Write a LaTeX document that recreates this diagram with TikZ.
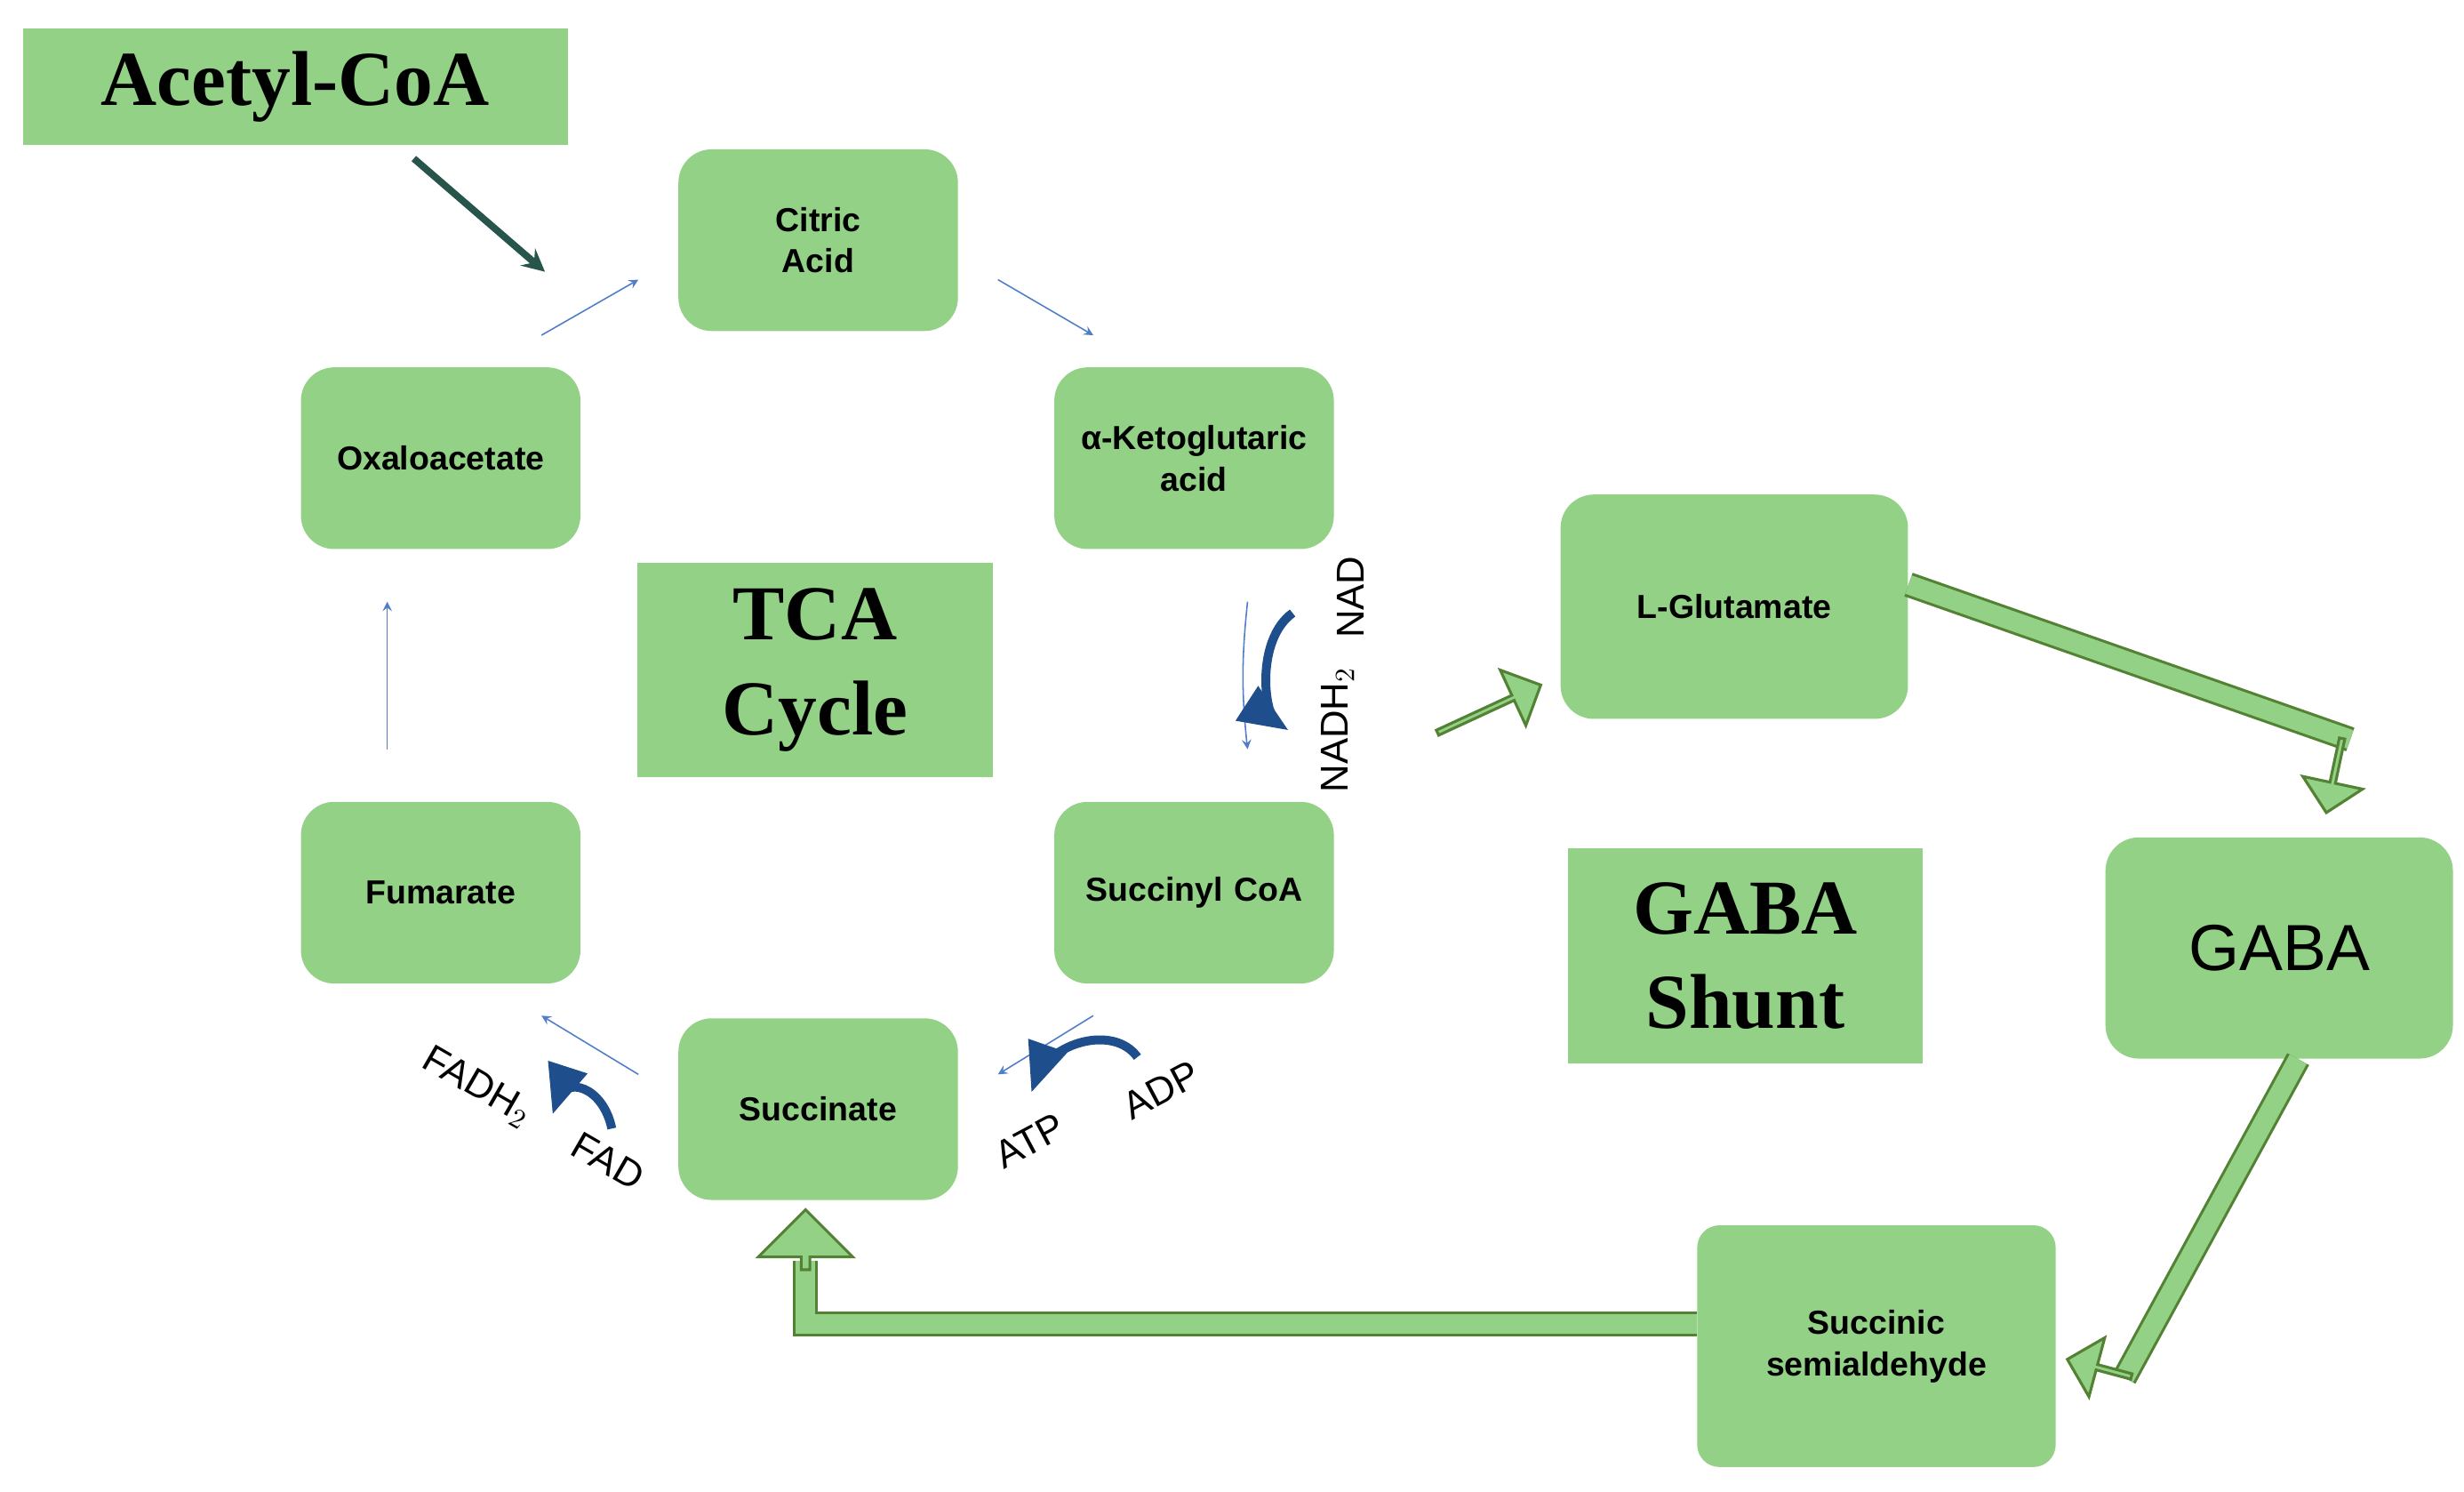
\documentclass[tikz,border=0pt]{standalone}
\usepackage{fontspec}
\setmainfont{Liberation Sans}
\newfontfamily\titlefont{Liberation Serif}
\usetikzlibrary{shapes,arrows,calc}
\definecolor{boxgreen}{RGB}{147,209,134}
\definecolor{arrowdark}{RGB}{84,130,53}
\definecolor{cycleblue}{RGB}{80,125,200}
\definecolor{cofblue}{RGB}{31,78,140}
\definecolor{acetyl}{RGB}{40,85,75}
\tikzstyle{mol} = [rectangle, rounded corners=12pt, fill=boxgreen, minimum width=3.54cm, minimum height=2.3cm, text width=3.2cm, align=center, font=\bfseries\fontsize{12}{15}\selectfont]
\tikzstyle{heading} = [rectangle, fill=boxgreen, align=center, font=\titlefont\bfseries\fontsize{28}{34}\selectfont]
\tikzstyle{cyc} = [draw=cycleblue, -stealth, line width=0.5pt]
\tikzstyle{cof} = [draw=cofblue, line width=3.2pt, -triangle 45]
\tikzstyle{coflabel} = [font=\fontsize{14}{14}\selectfont]
\tikzstyle{shaft} = [draw=arrowdark, double=boxgreen, double distance=7pt, line width=1pt]
\tikzstyle{blockhead} = [single arrow, draw=arrowdark, fill=boxgreen, line width=1pt, minimum width=22pt, single arrow head extend=5pt, single arrow head indent=0pt, inner sep=0pt]

\begin{document}
\begin{tikzpicture}[x=0.02cm, y=-0.02cm]
		\useasboundingbox (0,0) rectangle (1560,944);
		
		\node[heading, minimum width=6.9cm, minimum height=1.48cm](acetyl) at (187,55) {Acetyl-CoA};
		\node[heading, minimum width=4.5cm, minimum height=2.72cm](tca) at (516,424) {TCA\\Cycle};
		\node[heading, minimum width=4.5cm, minimum height=2.72cm](shunt) at (1105,605) {GABA\\Shunt};
		
		\node[mol](citric) at (518,152) {Citric\\Acid};
		\node[mol](akg) at (756,290) {α-Ketoglutaric\\acid};
		\node[mol](oxalo) at (279,290) {Oxaloacetate};
		\node[mol](fum) at (279,565) {Fumarate};
		\node[mol](succoa) at (756,565) {Succinyl CoA};
		\node[mol](succ) at (518,702) {Succinate};
		
		\node[mol, minimum width=4.4cm, minimum height=2.84cm](glut) at (1098,384) {L-Glutamate};
		\node[mol, minimum width=4.4cm, minimum height=2.8cm, font=\fontsize{23.5}{28}\selectfont](gaba) at (1443,600) {GABA};
		\node[mol, rounded corners=8pt, minimum width=4.54cm, minimum height=3.06cm](ssa) at (1188,852) {Succinic\\semialdehyde};
		
		% acetyl-CoA enters the cycle
		\coordinate (acetyl_in) at (345,172);
		\draw[acetyl, line width=2.5pt, -stealth] (acetyl.south) ++(75,8) -- (acetyl_in);
		
		% thin cycle arrows
		\draw[cyc] (oxalo.north east) ++(-25,-20) -- ($(citric.west)+(-25,25)$);
		\draw[cyc] (citric.east) ++(25,25) -- ($(akg.north west)+(25,-20)$);
		\draw[cyc] (akg.south east) ++(-55,33) to[bend right=6] ($(succoa.north east)+(-55,-33)$);
		\draw[cyc] (succoa.south west) ++(25,20) -- ($(succ.east)+(25,-22)$);
		\draw[cyc] (succ.west) ++(-25,-22) -- ($(fum.south east)+(-25,20)$);
		\draw[cyc] (fum.north west) ++(55,-33) -- ($(oxalo.south west)+(55,33)$);
		
		% cofactors
		\node[coflabel, rotate=90] (nad) at (855,378) {NAD};
		\node[coflabel, rotate=90] (nadh) at (847,462) {NADH$_2$};
		\draw[cof] (nad.north) ++(-22,10) .. controls (795,405) and (800,452) .. ($(nadh.north)+(-15,0)$);
		
		\node[coflabel, rotate=28] (adp) at (735,690) {ADP};
		\node[coflabel, rotate=28] (atp) at (652,722) {ATP};
		\draw[cof] (adp.north) ++(-8,-8) .. controls (705,648) and (664,660) .. ($(atp.north)+(8,-18)$);
		
		\node[coflabel, rotate=-30] (fadh) at (302,688) {FADH$_2$};
		\node[coflabel, rotate=-30] (fad) at (385,735) {FAD};
		\draw[cof] (fad.north) ++(-5,-8) .. controls (382,688) and (358,680) .. ($(fadh.east)+(10,-5)$);
		
		% GABA shunt block arrows
		\coordinate (glut_in) at (975,434);
		\node[blockhead, minimum height=1.44cm, rotate=24.8] (glut_arrow) at (942,449) {};
		
		\coordinate (glut_bend) at (1488,468);
		\draw[shaft] (glut.east) ++(0,-14) -- (glut_bend);
		\node[blockhead, minimum height=0.96cm, rotate=-102] (gaba_arrow) at (1478,490) {};
		
		\coordinate (gaba_bend) at (1345,872);
		\draw[shaft] (gaba.south) ++(12,0) -- (gaba_bend);
		\node[blockhead, minimum height=0.84cm, rotate=165] (ssa_arrow) at (1330,866) {};
		
		\coordinate (succ_bend) at (510,838);
		\draw[shaft] (ssa.west) ++(0,-14) -- (succ_bend) -- ++(0,-40);
		\node[blockhead, minimum height=0.76cm, minimum width=34pt, rotate=90] (succ_arrow) at (510,786) {};
		
		\end{tikzpicture}
\end{document}
